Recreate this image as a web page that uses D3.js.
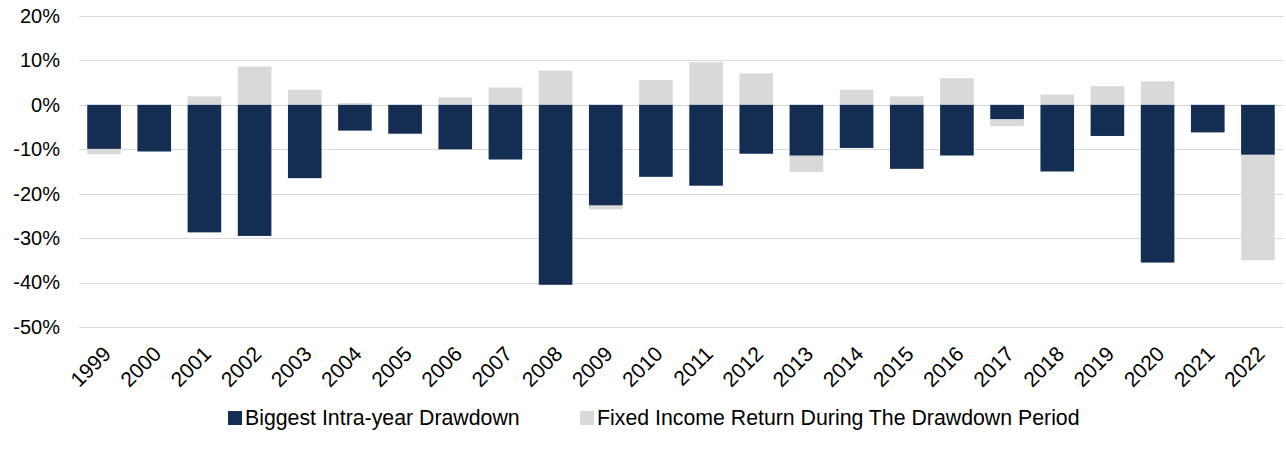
<!DOCTYPE html>
<html>
<head>
<meta charset="utf-8">
<script src="https://cdn.jsdelivr.net/npm/d3@7"></script>
<style>
  body { margin: 0; background: #fff; }
  svg { display: block; font-family: "Liberation Sans", Arial, sans-serif; }
</style>
</head>
<body>
<svg id="chart" width="1286" height="471"></svg>
<script>
// data (percent)
const years = ["1999","2000","2001","2002","2003","2004","2005","2006","2007","2008","2009","2010",
               "2011","2012","2013","2014","2015","2016","2017","2018","2019","2020","2021","2022"];
const drawdown = [-9.9,-10.5,-28.7,-29.5,-16.5,-5.8,-6.5,-10.0,-12.3,-40.5,-22.6,-16.2,
                  -18.2,-11.0,-11.4,-9.7,-14.4,-11.4,-3.2,-15.0,-7.0,-35.5,-6.2,-11.2];
const fixedIncome = [-11.1,-10.3,1.9,8.6,3.4,0.4,-6.3,1.7,3.9,7.7,-23.5,5.6,
                     9.6,7.1,-15.1,3.4,1.9,6.0,-4.8,2.3,4.2,5.3,-6.0,-35.0];
const yTicks = [20,10,0,-10,-20,-30,-40,-50];
const seriesNames = ["Biggest Intra-year Drawdown","Fixed Income Return During The Drawdown Period"];
const colors = ["#142d52","#d9d9d9"];

const svg = d3.select("#chart");
const margin = {top:16, right:3, bottom:144, left:79},
      width = 1286 - margin.left - margin.right,
      height = 471 - margin.top - margin.bottom;

const g = svg.append("g").attr("transform", `translate(${margin.left},${margin.top})`);

const x = d3.scaleBand().domain(years).range([0, width]).paddingInner(0.33).paddingOuter(0.165);
const y = d3.scaleLinear().domain([-50, 20]).range([height, 0]);

// gridlines
g.selectAll(".grid").data(yTicks).join("line")
  .attr("x1", 0).attr("x2", width)
  .attr("y1", d => Math.round(y(d)) + 0.5).attr("y2", d => Math.round(y(d)) + 0.5)
  .attr("stroke", "#d9d9d9").attr("stroke-width", 1);

// y axis labels
const yAxis = g.append("g").call(d3.axisLeft(y).tickValues(yTicks).tickFormat(d => d + "%").tickSize(0).tickPadding(19));
yAxis.select(".domain").remove();
yAxis.selectAll("text").attr("font-size", 20).attr("fill", "#000").attr("font-family", "Liberation Sans, Arial, sans-serif");

// fixed income bars (behind)
g.selectAll(".fi").data(years).join("rect")
  .attr("x", d => x(d)).attr("width", x.bandwidth())
  .attr("y", (d,i) => y(Math.max(0, fixedIncome[i])))
  .attr("height", (d,i) => Math.abs(y(fixedIncome[i]) - y(0)))
  .attr("fill", colors[1]);

// drawdown bars (front)
g.selectAll(".dd").data(years).join("rect")
  .attr("x", d => x(d)).attr("width", x.bandwidth())
  .attr("y", (d,i) => y(Math.max(0, drawdown[i])))
  .attr("height", (d,i) => Math.abs(y(drawdown[i]) - y(0)))
  .attr("fill", colors[0]);

// x labels, rotated
g.selectAll(".xl").data(years).join("text")
  .attr("transform", d => `translate(${x(d) + x.bandwidth()/2 - 3},${height + 17}) rotate(-45)`)
  .attr("text-anchor", "end")
  .attr("dy", "0.75em")
  .attr("font-size", 21)
  .attr("fill", "#000")
  .text(d => d);

// legend
const legendX = [228, 580];
const legend = svg.selectAll(".legend").data(seriesNames).join("g")
  .attr("transform", (d,i) => `translate(${legendX[i]},411)`);
legend.append("rect").attr("width", 14).attr("height", 14).attr("fill", (d,i) => colors[i]);
legend.append("text").attr("x", 17).attr("y", 7).attr("dy", "0.35em")
  .attr("font-size", 21.3).attr("fill", "#000").text(d => d);
</script>
</body>
</html>
